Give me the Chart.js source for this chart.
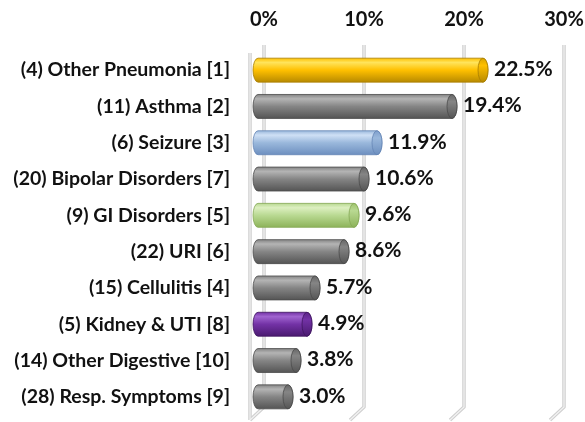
<!DOCTYPE html>
<html><head><meta charset="utf-8">
<script src="https://cdn.jsdelivr.net/npm/chart.js@4"></script>
<style>html,body{margin:0;padding:0;background:#fff}#wrap{width:585px;height:422px}</style>
</head><body><div id="wrap"><canvas id="c" width="585" height="422"></canvas></div>
<script>
const categories = [
  '(4) Other Pneumonia [1]',
  '(11) Asthma [2]',
  '(6) Seizure [3]',
  '(20) Bipolar Disorders [7]',
  '(9) GI Disorders [5]',
  '(22) URI [6]',
  '(15) Cellulitis [4]',
  '(5) Kidney & UTI [8]',
  '(14) Other Digestive [10]',
  '(28) Resp. Symptoms [9]'
];
const values = [22.5, 19.4, 11.9, 10.6, 9.6, 8.6, 5.7, 4.9, 3.8, 3.0];
const tickValues = [0, 10, 20, 30];
const colorKeys = ['gold','gray','blue','gray','green','gray','gray','purple','gray','gray'];

const palette = {
  gold:   {light:'#ffe45c', mid:'#ffc000', dark:'#b88a00', cap:'#d9a400', edge:'#a87e00'},
  gray:   {light:'#b4b4b4', mid:'#858585', dark:'#555555', cap:'#676767', edge:'#4a4a4a'},
  blue:   {light:'#cfe0f5', mid:'#9ab8dc', dark:'#6d8fbf', cap:'#7f9fcc', edge:'#6585b5'},
  green:  {light:'#dcefc0', mid:'#b9d992', dark:'#8db35a', cap:'#9fc46c', edge:'#85a857'},
  purple: {light:'#a064d0', mid:'#7332a6', dark:'#4a1a70', cap:'#5c2487', edge:'#3f1560'}
};

const gridPlugin = {
  id: 'grid3d',
  beforeDatasetsDraw(chart) {
    const ctx = chart.ctx, xs = chart.scales.x, a = chart.chartArea;
    const top = a.top - 7, bot = a.bottom - 8, dx = 14, dy = 13, off = 6;
    const paths = [];
    tickValues.forEach(v => {
      const px = xs.getPixelForValue(v) + off;
      paths.push([[px, top], [px, bot], [px - dx, bot + dy]]);
    });
    const p0 = xs.getPixelForValue(0) + off - dx;
    paths.push([[p0, top + 8], [p0, bot + dy]]);
    ctx.save();
    ctx.lineJoin = 'round';
    [[3.5, '#cfcfcf'], [1.2, '#f2f2f2']].forEach(([w, c]) => {
      ctx.lineWidth = w; ctx.strokeStyle = c;
      paths.forEach(pts => {
        ctx.beginPath();
        pts.forEach((p, i) => i ? ctx.lineTo(p[0], p[1]) : ctx.moveTo(p[0], p[1]));
        ctx.stroke();
      });
    });
    ctx.restore();
  }
};

const cylPlugin = {
  id: 'cyl',
  afterDatasetsDraw(chart) {
    const ctx = chart.ctx, meta = chart.getDatasetMeta(0);
    ctx.save();
    meta.data.forEach((el, i) => {
      const p = palette[colorKeys[i]];
      const x0 = el.base, x1 = el.x, y = el.y, h = el.height;
      const ry = h / 2, rx = 5, top = y - ry, bot = y + ry;
      const g = ctx.createLinearGradient(0, top, 0, bot);
      g.addColorStop(0, p.mid);
      g.addColorStop(0.18, p.light);
      g.addColorStop(0.5, p.mid);
      g.addColorStop(1, p.dark);
      ctx.beginPath();
      ctx.moveTo(x0, top);
      ctx.lineTo(x1, top);
      ctx.ellipse(x1, y, rx, ry, 0, -Math.PI / 2, Math.PI / 2);
      ctx.lineTo(x0, bot);
      ctx.ellipse(x0, y, rx, ry, 0, Math.PI / 2, Math.PI * 1.5);
      ctx.closePath();
      ctx.fillStyle = g; ctx.fill();
      ctx.lineWidth = 0.8; ctx.strokeStyle = p.edge; ctx.stroke();
      const gc = ctx.createLinearGradient(0, top, 0, bot);
      gc.addColorStop(0, p.cap);
      gc.addColorStop(0.3, p.mid);
      gc.addColorStop(1, p.dark);
      ctx.beginPath();
      ctx.ellipse(x1, y, rx, ry, 0, 0, Math.PI * 2);
      ctx.fillStyle = gc; ctx.fill();
      ctx.lineWidth = 0.8; ctx.strokeStyle = p.edge; ctx.stroke();
      ctx.fillStyle = '#111';
      ctx.font = 'bold 21px Lato';
      ctx.textAlign = 'left'; ctx.textBaseline = 'middle';
      ctx.fillText(values[i].toFixed(1) + '%', x1 + rx + 6, y - 1);
    });
    ctx.restore();
  }
};

new Chart(document.getElementById('c'), {
  type: 'bar',
  data: {
    labels: categories,
    datasets: [{
      data: values,
      backgroundColor: 'rgba(0,0,0,0)',
      borderWidth: 0,
      categoryPercentage: 0.66,
      barPercentage: 1
    }]
  },
  options: {
    indexAxis: 'y',
    responsive: false,
    devicePixelRatio: 1,
    animation: false,
    layout: { padding: { top: 6, right: 27, bottom: 7, left: 0 } },
    plugins: { legend: { display: false }, tooltip: { enabled: false } },
    scales: {
      x: {
        position: 'top',
        min: 0, max: 30,
        afterBuildTicks: s => { s.ticks = tickValues.map(v => ({ value: v })); },
        afterFit: s => { s.height = 46; s.paddingLeft = 0; s.paddingRight = 0; },
        grid: { display: false, drawTicks: false },
        border: { display: false },
        ticks: {
          padding: 20,
          labelOffset: 6,
          color: '#111',
          font: { family: 'Lato', size: 20, weight: 'bold' },
          callback: v => v + '%'
        }
      },
      y: {
        afterFit: s => { s.width = 258; s.paddingTop = 0; s.paddingBottom = 0; },
        grid: { display: false, drawTicks: false },
        border: { display: false },
        ticks: {
          padding: 28,
          color: '#111',
          font: { family: 'Lato', size: 19.5, weight: 'bold' }
        }
      }
    }
  },
  plugins: [gridPlugin, cylPlugin]
});
</script>
</body></html>
